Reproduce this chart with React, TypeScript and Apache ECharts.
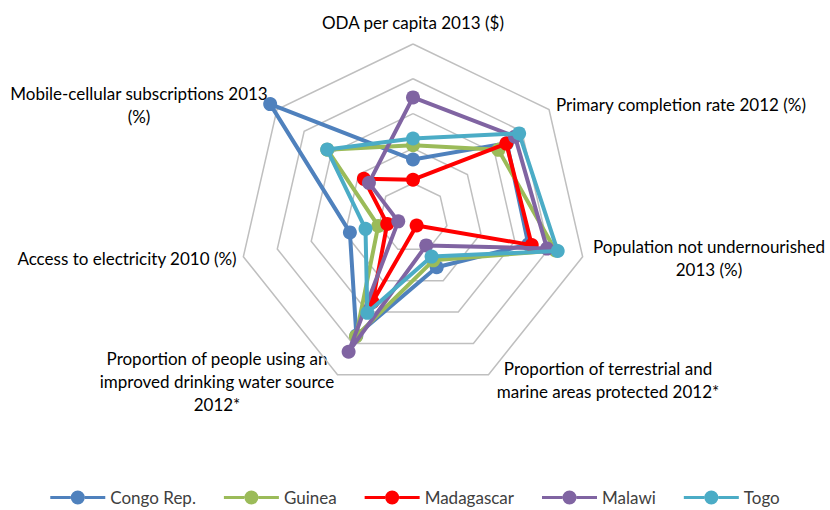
import React, { useEffect, useRef } from "react";
import * as echarts from "echarts";

// Indicators in clockwise order starting at the top
const indicators = [
  "ODA per capita 2013 ($)",
  "Primary completion rate 2012 (%)",
  "Population not undernourished 2013 (%)",
  "Proportion of terrestrial and marine areas protected 2012*",
  "Proportion of people using an improved drinking water source 2012*",
  "Access to electricity 2010 (%)",
  "Mobile-cellular subscriptions 2013 (%)",
];

const seriesNames = ["Congo Rep.", "Guinea", "Madagascar", "Malawi", "Togo"];
const congo = [33.6, 69, 68, 31.4, 75, 37.2, 105];
const guinea = [41.8, 62.8, 84, 27, 75.6, 20.5, 63];
const madagascar = [22, 68.6, 70, 4.8, 53.6, 15.2, 36.1];
const malawi = [69.3, 75, 79, 17.5, 85.3, 8.7, 32.4];
const togo = [45.7, 78, 85.3, 24.6, 60.5, 28, 63.1];
const colors = ["#4F81BD", "#9BBB59", "#FF0000", "#8064A2", "#4BACC6"];

const axisMax = 100;

// ECharts lays radar indicators counter-clockwise; reorder clockwise data
const toEcOrder = <T,>(arr: T[]): T[] => [arr[0], ...arr.slice(1).reverse()];

const labelTexts = [
  { text: "ODA per capita 2013 ($)", x: 413, y: 22 },
  { text: "Primary completion rate 2012 (%)", x: 681, y: 104 },
  { text: "Population not undernourished\n2013 (%)", x: 709, y: 258 },
  { text: "Proportion of terrestrial and\nmarine areas protected 2012*", x: 608, y: 380 },
  { text: "Proportion of people using an\nimproved drinking water source\n2012*", x: 217, y: 381 },
  { text: "Access to electricity 2010 (%)", x: 127, y: 258 },
  { text: "Mobile-cellular subscriptions 2013\n(%)", x: 139, y: 105 },
];

const legendIcon =
  "path://M0,5.5L20.5,5.5L20.5,8.5L0,8.5Z M34.5,5.5L55,5.5L55,8.5L34.5,8.5Z M20.5,7A7,7 0 1 1 34.5,7A7,7 0 1 1 20.5,7Z";

export default function App() {
  const ref = useRef<HTMLDivElement>(null);
  useEffect(() => {
    if (!ref.current) return;
    const chart = echarts.init(ref.current, undefined, { renderer: "svg" });
    const all = [congo, guinea, madagascar, malawi, togo];
    const font = "Lato, 'Open Sans', sans-serif";
    chart.setOption({
      animation: false,
      backgroundColor: "#ffffff",
      color: colors,
      legend: {
        data: seriesNames.map((name) => ({ name, icon: legendIcon })),
        left: "center",
        top: 484,
        itemWidth: 55,
        itemHeight: 14,
        itemGap: 28,
        textStyle: { fontFamily: font, fontSize: 17, color: "#404040" },
      },
      radar: {
        center: [413, 218],
        radius: 174,
        shape: "polygon",
        splitNumber: 5,
        indicator: toEcOrder(indicators).map((name) => ({ name, max: axisMax, min: 0 })),
        axisName: { show: false },
        axisLine: { show: false },
        axisTick: { show: false },
        splitArea: { show: false },
        splitLine: { lineStyle: { color: "#BFBFBF", width: 1.5 } },
      },
      graphic: labelTexts.map((l) => ({
        type: "text",
        x: l.x,
        y: l.y,
        style: {
          text: l.text,
          fill: "#000000",
          font: `17px ${font}`,
          textAlign: "center",
          textVerticalAlign: "middle",
          lineHeight: 23,
        },
      })),
      series: seriesNames.map((name, i) => ({
        type: "radar",
        name,
        symbol: "circle",
        symbolSize: 14,
        lineStyle: { width: 4, color: colors[i] },
        itemStyle: { color: colors[i] },
        data: [{ name, value: toEcOrder(all[i]) }],
        z: 2 + i,
      })),
    });
    return () => chart.dispose();
  }, []);
  return (
    <div
      ref={ref}
      style={{ position: "absolute", left: 0, top: 0, width: 830, height: 510 }}
    />
  );
}
